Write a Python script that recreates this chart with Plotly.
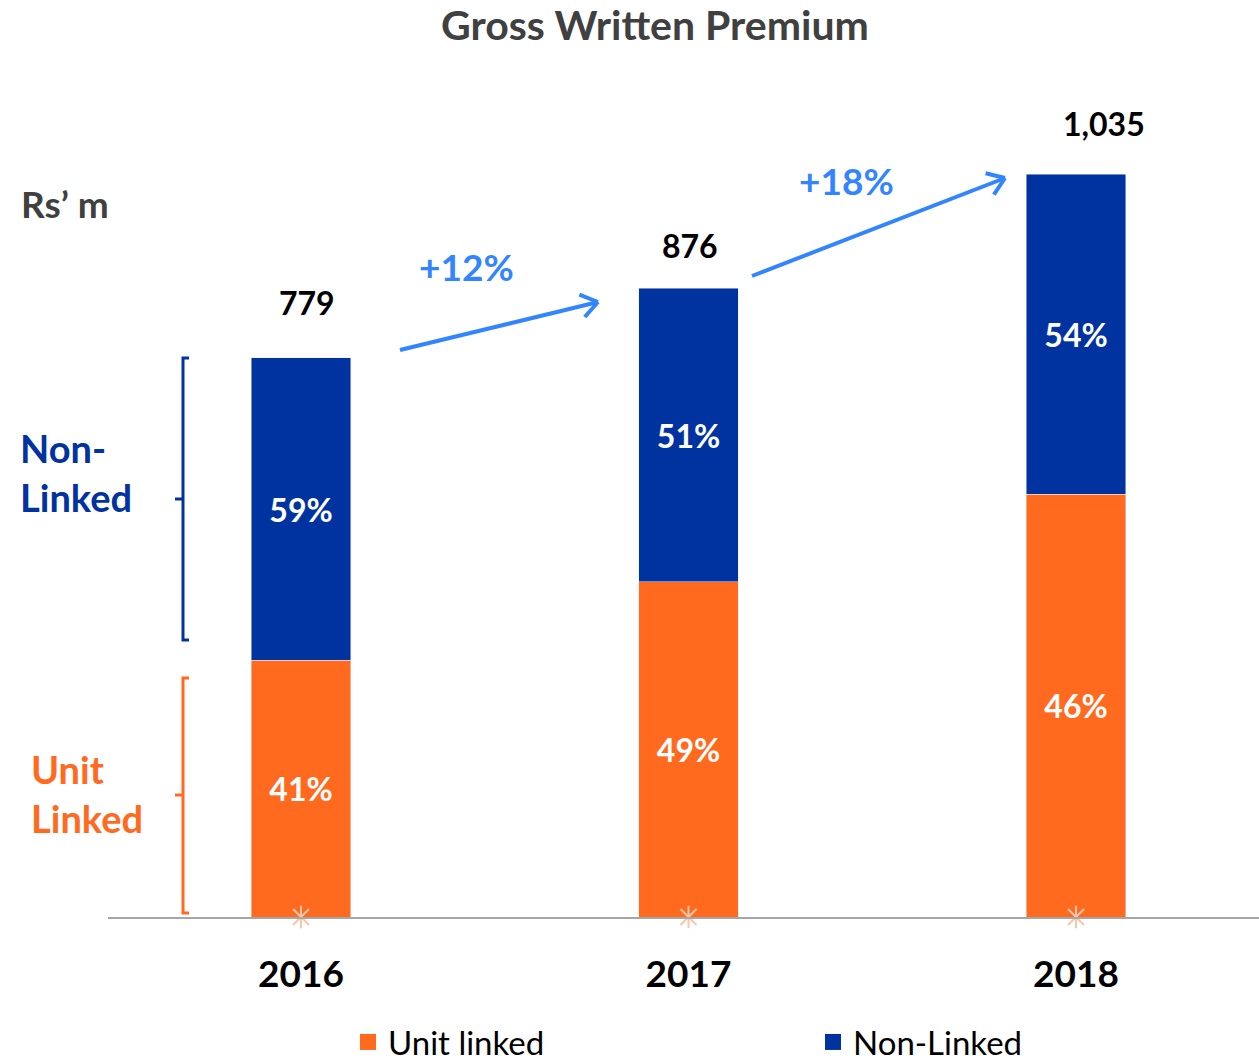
import math
import plotly.graph_objects as go

# ---- data ----
years = ["2016", "2017", "2018"]
unit_linked = [358, 467, 589]      # Rs' m (segment heights)
non_linked = [421, 409, 446]
totals = [779, 876, 1035]
total_labels = ["779", "876", "1,035"]
unit_pct = ["41%", "49%", "46%"]
non_pct = ["59%", "51%", "54%"]
growth_labels = ["+12%", "+18%"]

# ---- styling ----
ORANGE = "#FF6A1F"
BLUE = "#0033A0"
ARROW = "#3385FF"
FONT = "Lato"

W, H = 1259, 1064
BASE_PX = 917                 # baseline in screen pixels
PLOT_L_PX, PLOT_T_PX = 108, 100
ML, MR = PLOT_L_PX, 0
MT = PLOT_T_PX
MB = H - BASE_PX
PLOT_W = W - ML - MR
PLOT_H = H - MT - MB
PX_PER_CAT = 387.5
X0_PX = 301
PX_PER_UNIT = 0.7176
YMAX = PLOT_H / PX_PER_UNIT


def px2x(px):
    return (px - X0_PX) / PX_PER_CAT


def px2y(py):
    return (BASE_PX - py) / PX_PER_UNIT


def px2paperx(px):
    return (px - PLOT_L_PX) / PLOT_W


def px2papery(py):
    return (BASE_PX - py) / PLOT_H


xs = list(range(len(years)))

fig = go.Figure()
fig.add_trace(go.Bar(
    x=xs, y=unit_linked, name="Unit linked", marker_color=ORANGE, showlegend=False,
    width=0.258, text=unit_pct, textposition="inside", insidetextanchor="middle",
    textangle=0, textfont=dict(family=FONT, size=32, color="white", weight="bold"),
    hoverinfo="skip", legendgroup="unit",
))
fig.add_trace(go.Bar(
    x=xs, y=non_linked, name="Non-Linked", marker_color=BLUE, showlegend=False,
    width=0.258, text=non_pct, textposition="inside", insidetextanchor="middle",
    textangle=0, textfont=dict(family=FONT, size=32, color="white", weight="bold"),
    hoverinfo="skip", legendgroup="non",
))
# legend entries with larger square swatches
for nm, col, grp in [("Unit linked", ORANGE, "unit"), ("Non-Linked", BLUE, "non")]:
    fig.add_trace(go.Scatter(
        x=[None], y=[None], mode="markers", name=nm, legendgroup=grp,
        marker=dict(symbol="square", size=20, color=col),
    ))
# baseline asterisk markers
for sym in ["x-thin-open", "line-ns-open"]:
    fig.add_trace(go.Scatter(
        x=xs, y=[0] * len(xs), mode="markers", showlegend=False, hoverinfo="skip",
        marker=dict(symbol=sym, size=16, color="#F8C6A8",
                    line=dict(color="#F8C6A8", width=2)),
        cliponaxis=False,
    ))

annotations = []
# totals above bars
total_shift = [(6, 55), (1, 43), (28, 51)]
for i, (t, lab) in enumerate(zip(totals, total_labels)):
    annotations.append(dict(
        x=xs[i], y=t, text=lab, showarrow=False, xshift=total_shift[i][0],
        yshift=total_shift[i][1], yanchor="middle",
        font=dict(family=FONT, size=32, color="black", weight="bold"),
    ))

# growth arrows (shaft + chevron)
arrows_px = [((400, 350), (598, 302)), ((752, 276), (1005, 178))]
growth_pos_px = [(466, 266), (846, 180)]
shapes = []
for (s, e) in arrows_px:
    shapes.append(dict(type="line", xref="x", yref="y",
                       x0=px2x(s[0]), y0=px2y(s[1]), x1=px2x(e[0]), y1=px2y(e[1]),
                       line=dict(color=ARROW, width=4)))
    ang = math.atan2(e[1] - s[1], e[0] - s[0])
    for da in (math.radians(145), math.radians(-145)):
        hx = e[0] + 20 * math.cos(ang + da)
        hy = e[1] + 20 * math.sin(ang + da)
        shapes.append(dict(type="line", xref="x", yref="y",
                           x0=px2x(e[0]), y0=px2y(e[1]), x1=px2x(hx), y1=px2y(hy),
                           line=dict(color=ARROW, width=4)))
for lab, (gx, gy) in zip(growth_labels, growth_pos_px):
    annotations.append(dict(
        x=px2x(gx), y=px2y(gy), text=lab, showarrow=False, yanchor="middle",
        font=dict(family=FONT, size=37, color=ARROW, weight="bold"),
    ))

# unit label
annotations.append(dict(
    xref="paper", yref="paper", x=px2paperx(19), y=px2papery(203), text="Rs’ m",
    showarrow=False, xanchor="left", yanchor="middle",
    font=dict(family=FONT, size=37, color="#404040", weight="bold"),
))
# side labels
annotations.append(dict(
    xref="paper", yref="paper", x=px2paperx(18), y=px2papery(473), text="Non-<br>Linked",
    showarrow=False, xanchor="left", yanchor="middle", align="left",
    font=dict(family=FONT, size=38, color=BLUE, weight="bold"),
))
annotations.append(dict(
    xref="paper", yref="paper", x=px2paperx(29), y=px2papery(793), text="Unit<br>Linked",
    showarrow=False, xanchor="left", yanchor="middle", align="left",
    font=dict(family=FONT, size=38, color=ORANGE, weight="bold"),
))


# brackets
def bracket(top, bot, mid, color):
    xv, xs_, xn = px2x(183), px2x(189), px2x(175)
    path = (f"M {xs_},{px2y(top)} L {xv},{px2y(top)} L {xv},{px2y(bot)} L {xs_},{px2y(bot)} "
            f"M {xv},{px2y(mid)} L {xn},{px2y(mid)}")
    return dict(type="path", xref="x", yref="y", path=path,
                line=dict(color=color, width=3))


shapes.append(bracket(358, 640, 499, BLUE))
shapes.append(bracket(678, 913, 795, ORANGE))

fig.update_layout(
    width=W, height=H,
    margin=dict(l=ML, r=MR, t=MT, b=MB, autoexpand=False),
    paper_bgcolor="white", plot_bgcolor="white",
    barmode="stack",
    title=dict(text="<b>Gross Written Premium</b>", x=655 / W, xanchor="center",
               y=1 - 26 / H, yanchor="middle",
               font=dict(family=FONT, size=41, color="#404040")),
    xaxis=dict(range=[px2x(PLOT_L_PX), px2x(1259)], tickvals=xs, ticktext=years,
               showgrid=False, zeroline=False, showline=True, linecolor="#A6A6A6",
               linewidth=2, ticks="", ticklabelstandoff=24,
               tickfont=dict(family=FONT, size=37, color="black", weight="bold")),
    yaxis=dict(range=[0, YMAX], visible=False, showgrid=False, zeroline=False),
    showlegend=True,
    legend=dict(orientation="h", xref="container", yref="container",
                x=348 / W, xanchor="left",
                y=1 - 1042 / H, yanchor="middle",
                entrywidth=420, entrywidthmode="pixels", itemsizing="trace",
                font=dict(family=FONT, size=33, color="black"), traceorder="normal"),
    annotations=annotations,
    shapes=shapes,
)

fig.write_html("out.html", config={"displayModeBar": False},
               post_script="document.body.style.margin='0';document.body.style.overflow='hidden';")
